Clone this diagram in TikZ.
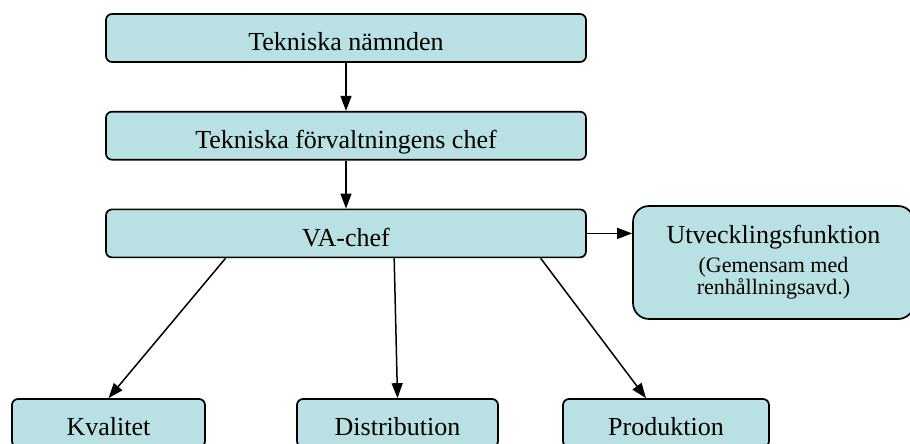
\documentclass[tikz,border=0pt]{standalone}
\usepackage{fontspec}
\setmainfont{Liberation Serif}
\usepackage{tikz}
\usetikzlibrary{calc,positioning,arrows.meta}

\definecolor{boxcyan}{RGB}{185,224,227}

\begin{document}
\begin{tikzpicture}[x=1pt, y=1pt,
	orgbox/.style={draw, line width=1.7pt, fill=boxcyan, rounded corners=6pt, minimum height=48pt, text height=26pt, text depth=0pt, inner sep=0pt, font=\fontsize{26}{30}\selectfont},
	pil/.style={line width=1.5pt, -{Triangle[length=15pt, width=11pt]}}]
	\clip (0,0) rectangle (910,444);
	
	\node (nmd) [orgbox, minimum width=480pt] at (346,406) {Tekniska nämnden};
	\node (chef) [orgbox, minimum width=480pt, below=48pt of nmd] {Tekniska förvaltningens chef};
	\node (va) [orgbox, minimum width=480pt, below=48pt of chef] {VA-chef};
	\node (utv) [draw, line width=1.7pt, fill=boxcyan, rounded corners=16pt, minimum width=281pt, minimum height=113pt, align=center, font=\fontsize{22}{22}\selectfont] at (773.5,181.5) {{\fontsize{26}{30}\selectfont Utvecklingsfunktion}\\[7pt] (Gemensam med\\ renhållningsavd.)};
	
	\node (kval) [orgbox, minimum width=193pt] at (108.5,21) {Kvalitet};
	\node (dist) [orgbox, minimum width=201pt] at (397.5,21) {Distribution};
	\node (prod) [orgbox, minimum width=206pt] at (666,21) {Produktion};
	
	\draw [pil] (nmd) -- (chef);
	\draw [pil] (chef) -- (va);
	\draw [pil] (va.east) -- (va.east -| utv.west);
	\draw [pil] ($(va.south west)!0.25!(va.south east)$) -- (kval.north);
	\draw [pil] ($(va.south west)!0.6!(va.south east)$) -- (dist.north);
	\draw [pil] ($(va.south west)!0.904!(va.south east)$) -- ([xshift=-20pt]prod.north);
\end{tikzpicture}
\end{document}
